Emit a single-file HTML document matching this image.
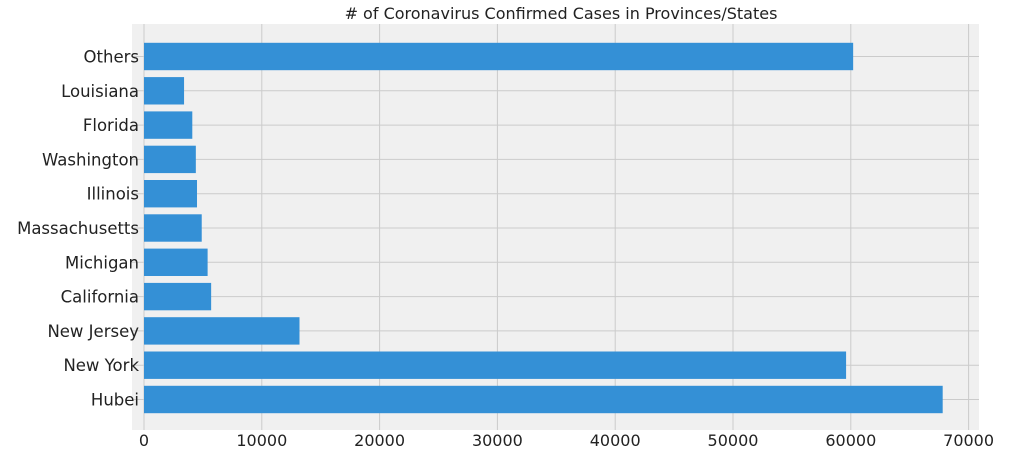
<!DOCTYPE html>
<html><head><meta charset="utf-8"><style>body{margin:0;background:#fff}svg text{font-family:"DejaVu Sans","Liberation Sans",sans-serif}</style></head>
<body>
<svg id="chart" width="1010" height="459" xmlns="http://www.w3.org/2000/svg">
<text x="561" y="19" text-anchor="middle" font-size="16" fill="#222"># of Coronavirus Confirmed Cases in Provinces/States</text>
<rect x="132" y="24" width="847" height="406" fill="#f0f0f0"/>
<g id="grid"></g><g id="bars"></g><g id="labels"></g>
</svg>
<script>
const categories=["Hubei","New York","New Jersey","California","Michigan","Massachusetts","Illinois","Washington","Florida","Louisiana","Others"];
const values=[67800,59600,13200,5700,5400,4900,4500,4400,4100,3400,60200];
const ticks=[0,10000,20000,30000,40000,50000,60000,70000];
const NS="http://www.w3.org/2000/svg";
const x=v=>144+v*117.8/10000;
const step=34.3, yc=i=>399.5-i*step;
function mk(t,a,p){const e=document.createElementNS(NS,t);for(const k in a)e.setAttribute(k,a[k]);p.appendChild(e);return e;}
const grid=document.getElementById('grid'),bars=document.getElementById('bars'),labels=document.getElementById('labels');
ticks.forEach(t=>{
 const l=mk('line',{x1:x(t),x2:x(t),y1:24,y2:430,stroke:'#cbcbcb','stroke-width':1},grid);
 
 
 const tx=mk('text',{x:x(t),y:446,'text-anchor':'middle','font-size':16,fill:'#222'},labels);
 tx.textContent=t;
 
 
});
categories.forEach((c,i)=>{
 const l=mk('line',{x1:132,x2:979,y1:yc(i),y2:yc(i),stroke:'#cbcbcb','stroke-width':1},grid);
 
 
 const r=mk('rect',{x:x(0),y:yc(i)-13.7,width:x(values[i])-x(0),height:27.4,fill:'#3490d6'},bars);
 
 
 const tx=mk('text',{x:139,y:yc(i)+6,'text-anchor':'end','font-size':16.5,fill:'#222'},labels);
 tx.textContent=c;
 
 
});
</script>
</body></html>
